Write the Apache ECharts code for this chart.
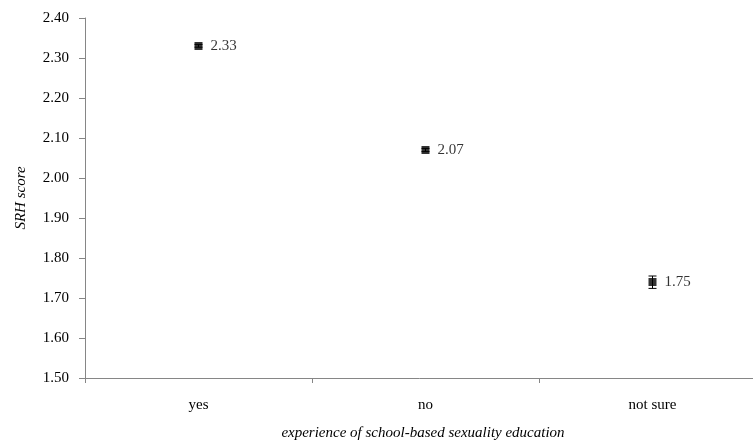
<!DOCTYPE html>
<html>
<head>
<meta charset="utf-8">
<script src="https://cdn.jsdelivr.net/npm/echarts@6/dist/echarts.min.js"></script>
<style>
  html, body { margin: 0; padding: 0; background: #fff; }
  #chart { width: 753px; height: 440px; }
</style>
</head>
<body>
<div id="chart"></div>
<script>
var categories = ['yes', 'no', 'not sure'];
var scores = [2.33, 2.07, 1.74];
var errLow = [2.327, 2.066, 1.724];
var errHigh = [2.334, 2.074, 1.755];
var labels = ['2.33', '2.07', '1.75'];

var myChart = echarts.init(document.getElementById('chart'));
var font = 'Liberation Serif';
var axisGray = '#868686';

var option = {
    animation: false,
    grid: { left: 85, top: 18, width: 681, height: 360, outerBoundsMode: 'none', containLabel: false },
    xAxis: {
        type: 'category',
        data: categories,
        boundaryGap: true,
        axisLine: { lineStyle: { color: axisGray } },
        axisTick: { show: true, length: 5, lineStyle: { color: axisGray } },
        axisLabel: { color: '#000', fontFamily: font, fontSize: 15, margin: 20 },
        name: 'experience of school-based sexuality education',
        nameLocation: 'middle',
        nameGap: 48,
        nameTextStyle: { fontFamily: font, fontStyle: 'italic', fontSize: 15, color: '#000',
                         padding: [0, 0, 0, -5] }
    },
    yAxis: {
        type: 'value',
        min: 1.5,
        max: 2.4,
        interval: 0.1,
        splitLine: { show: false },
        axisLine: { show: true, lineStyle: { color: axisGray } },
        axisTick: { show: true, length: 6, lineStyle: { color: axisGray } },
        axisLabel: {
            color: '#000', fontFamily: font, fontSize: 15, margin: 16,
            formatter: function (v) { return v.toFixed(2); }
        },
        name: 'SRH score',
        nameLocation: 'middle',
        nameGap: 56,
        nameTextStyle: { fontFamily: font, fontStyle: 'italic', fontSize: 15, color: '#000' }
    },
    series: [
        {
            type: 'custom',
            renderItem: function (params, api) {
                var x = api.value(0);
                var hi = api.coord([x, api.value(2)]);
                var lo = api.coord([x, api.value(1)]);
                var w = 4;
                var style = { stroke: '#000', lineWidth: 1 };
                return {
                    type: 'group',
                    children: [
                        { type: 'line', shape: { x1: hi[0], y1: hi[1], x2: lo[0], y2: lo[1] }, style: style },
                        { type: 'line', shape: { x1: hi[0] - w, y1: hi[1], x2: hi[0] + w, y2: hi[1] }, style: style },
                        { type: 'line', shape: { x1: lo[0] - w, y1: lo[1], x2: lo[0] + w, y2: lo[1] }, style: style }
                    ]
                };
            },
            data: categories.map(function (c, i) { return [i, errLow[i], errHigh[i]]; }),
            z: 1
        },
        {
            type: 'scatter',
            symbol: 'rect',
            symbolSize: 8,
            itemStyle: { color: '#000' },
            data: scores,
            label: {
                show: true,
                position: 'right',
                distance: 8,
                color: '#000',
                fontFamily: font,
                fontSize: 15,
                formatter: function (p) { return labels[p.dataIndex]; }
            },
            z: 2
        }
    ]
};
myChart.setOption(option);
</script>
</body>
</html>
